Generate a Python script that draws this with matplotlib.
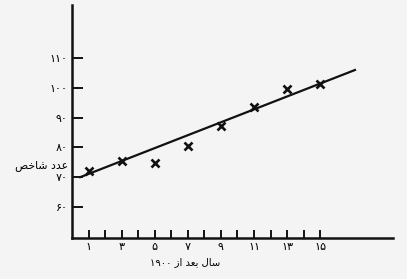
import matplotlib
matplotlib.use("Agg")
import matplotlib.pyplot as plt

# index number vs. year after 1900
years = [1, 3, 5, 7, 9, 11, 13, 15]
index_vals = [72.0, 75.3, 74.9, 80.4, 87.4, 93.6, 99.7, 101.5]

# fitted trend line end points
fit_x = [0.5, 17.1]
fit_y = [70.0, 106.1]

xticks = list(range(1, 16))
xlabels = ['\u06f1', '', '\u06f3', '', '\u06f5', '', '\u06f7', '',
           '\u06f9', '', '\u06f1\u06f1', '', '\u06f1\u06f3', '', '\u06f1\u06f5']
yticks = [60, 70, 80, 90, 100, 110]
ylabels = ['\u06f6\u06f0', '\u06f7\u06f0', '\u06f8\u06f0', '\u06f9\u06f0',
           '\u06f1\u06f0\u06f0', '\u06f1\u06f1\u06f0']

# persian text written in visual order with presentation forms
xtitle = '\u06f1\u06f9\u06f0\u06f0 \uFEAF\uFE8D \uFEAA\uFECC\uFE91 \uFEDD\uFE8E\uFEB3'
ytitle = '\uFEBA\uFEA7\uFE8E\uFEB7 \uFEA9\uFEAA\uFECB'

plt.rcParams['font.family'] = ['DejaVu Sans']
bg = '#f4f4f4'

fig = plt.figure(figsize=(4.07, 2.79), dpi=100, facecolor=bg)
ax = fig.add_axes([72/407, 41/279, 321/407, 233/279])
ax.set_facecolor(bg)

ax.plot(fit_x, fit_y, color='#111111', lw=1.6)
ax.plot(years, index_vals, 'x', color='#111111', ms=5.5, mew=1.9)

ax.set_xlim(0, 19.4)
ax.set_ylim(49.5, 128)

for s in ['top', 'right']:
    ax.spines[s].set_visible(False)
for s in ['left', 'bottom']:
    ax.spines[s].set_linewidth(1.8)
    ax.spines[s].set_color('#111111')

ax.set_xticks(xticks)
ax.set_xticklabels(xlabels)
ax.set_yticks(yticks)
ax.set_yticklabels(ylabels)
ax.tick_params(axis='x', direction='in', length=6, width=1.4, pad=3,
               labelsize=8, color='#111111')
ax.tick_params(axis='y', direction='in', length=8, width=1.4, pad=3,
               labelsize=8, color='#111111')

ax.set_xlabel(xtitle, fontsize=7.2)
ax.xaxis.set_label_coords(0.352, -0.08)
ax.set_ylabel(ytitle, fontsize=7.8, rotation=0, ha='right', va='center')
ax.yaxis.set_label_coords(-0.012, 0.313)

fig.savefig('out.png', dpi=100, facecolor=bg)
